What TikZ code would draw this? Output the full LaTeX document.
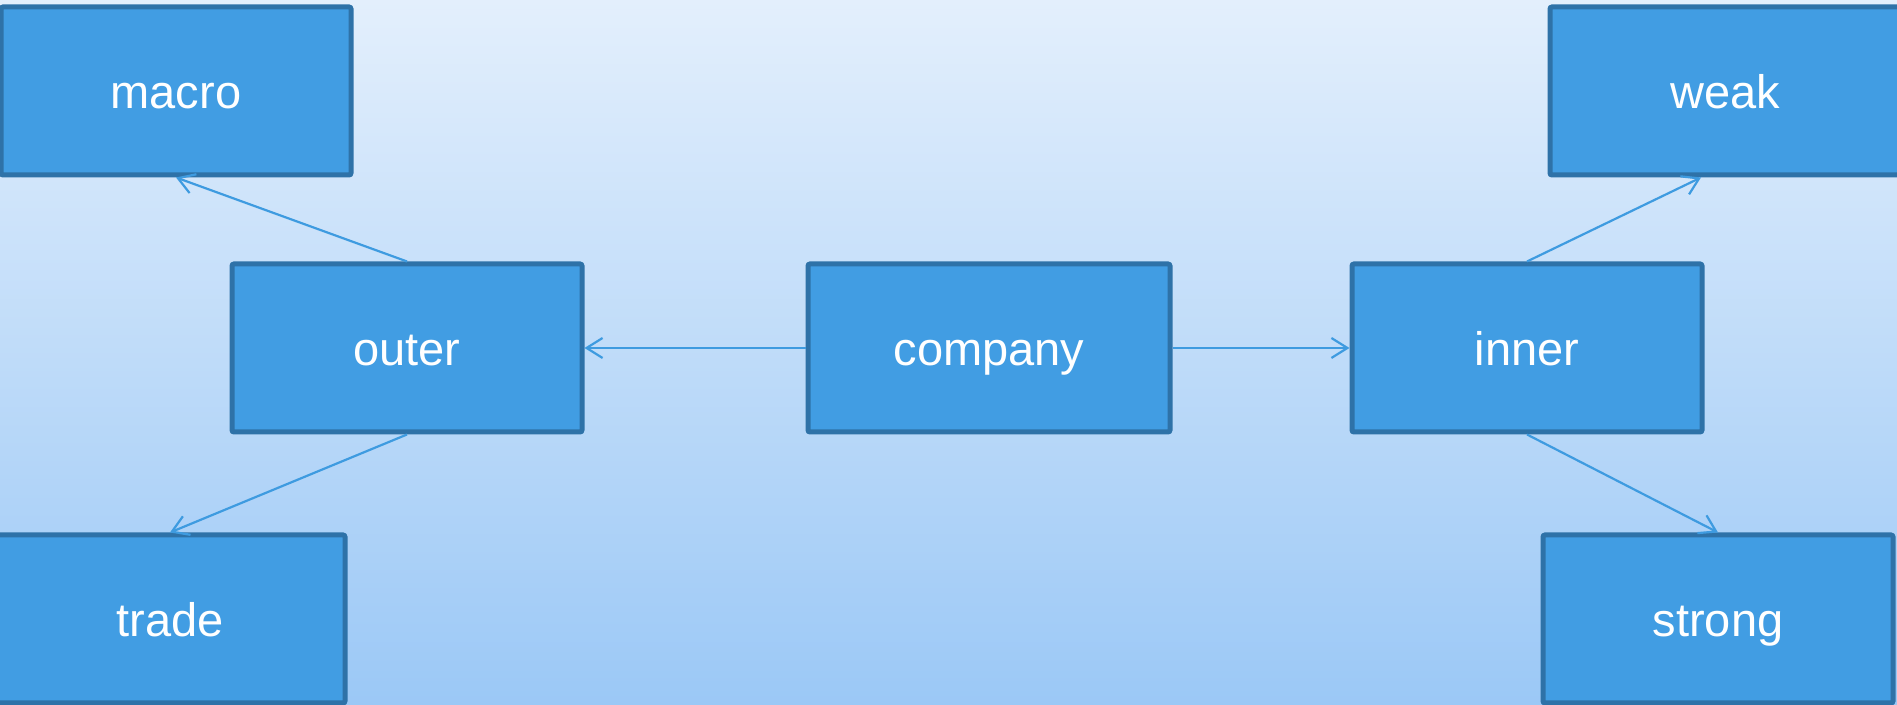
\documentclass[tikz,border=0pt]{standalone}
\usepackage{fontspec}
\setmainfont{Liberation Sans}
\usetikzlibrary{arrows.meta}
\definecolor{boxfill}{RGB}{65,157,227}
\definecolor{boxline}{RGB}{46,114,168}
\definecolor{linkcol}{RGB}{62,155,224}
\definecolor{bgtop}{RGB}{227,239,252}
\definecolor{bgbottom}{RGB}{155,200,246}
\begin{document}
\begin{tikzpicture}[x=0.5pt,y=0.5pt,
  block/.style={rectangle, fill=boxfill, draw=boxline, line width=2.5pt, rounded corners=1pt,
    minimum width=175pt, minimum height=84pt, text=white, text height=20pt, text depth=2pt,
    font=\fontsize{23.5}{28}\selectfont},
  link/.style={draw=linkcol, line width=1.1pt, -{Straight Barb[length=8pt,width=10pt]}}]
\shade [top color=bgtop, bottom color=bgbottom] (0,0) rectangle (1897,705);
\useasboundingbox (0,0) rectangle (1897,705);
\node [block] (macro) at (176,614) {macro};
\node [block] (weak) at (1725,614) {weak};
\node [block] (outer) at (407,357) {outer};
\node [block, minimum width=181pt] (company) at (989,357) {company};
\node [block] (inner) at (1527,357) {inner};
\node [block] (trade) at (170,86) {trade};
\node [block] (strong) at (1718,86) {strong};
\draw [link] (company.west) -- (outer.east);
\draw [link] (company.east) -- (inner.west);
\draw [link] (outer.north) -- (macro.south);
\draw [link] (outer.south) -- (trade.north);
\draw [link] (inner.north) -- ([xshift=-12pt]weak.south);
\draw [link] (inner.south) -- (strong.north);
\end{tikzpicture}
\end{document}
